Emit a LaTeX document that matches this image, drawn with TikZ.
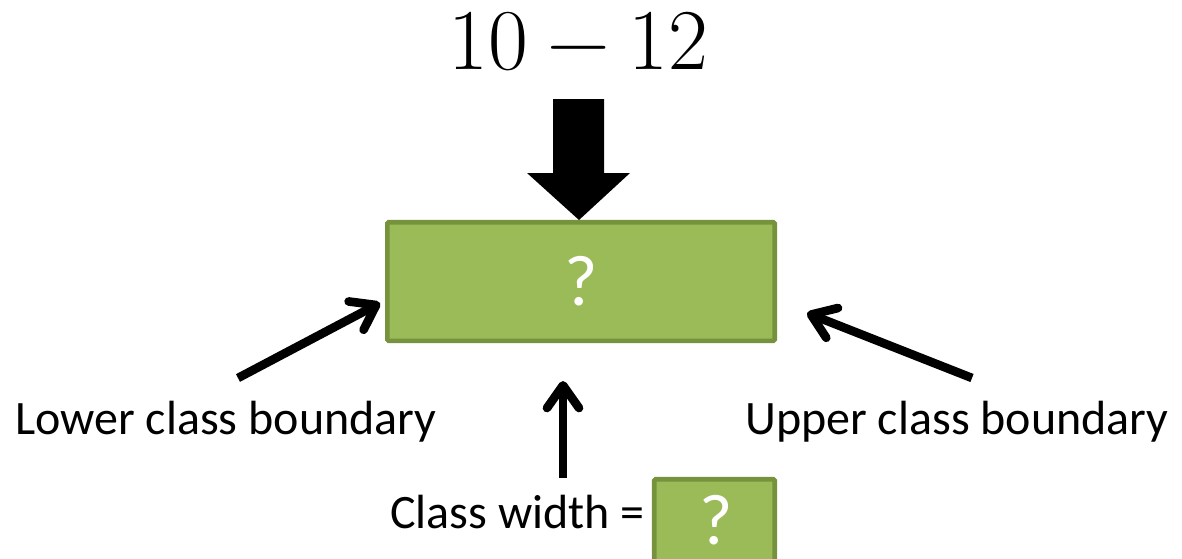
\documentclass[tikz,border=0pt]{standalone}
\usepackage{fontspec}
\setmainfont{Carlito}
\newfontfamily\rangefont{Latin Modern Roman}
\usetikzlibrary{arrows.meta}
\definecolor{boxfill}{HTML}{9BBB59}
\definecolor{boxline}{HTML}{76923C}
\begin{document}
\begin{tikzpicture}[x=0.75pt,y=-0.75pt,
  greenbox/.style={draw=boxline, fill=boxfill, line width=3.4pt, rounded corners=1pt,
    text=white, font=\fontsize{54}{60}\selectfont, inner sep=0pt},
  mark text/.style={text=white, font=\fontsize{54}{60}\selectfont, inner sep=0pt},
  caption/.style={font=\fontsize{36}{43}\selectfont, inner sep=0pt, anchor=base west},
  pointer/.style={line width=6.5pt,
    -{Straight Barb[length=17pt,width=24pt,round]}}]
\useasboundingbox (0,0) rectangle (1182,558);
\clip (0,0) rectangle (1182,558);

% class interval written above
\node[font=\rangefont\fontsize{65}{70}\selectfont, inner sep=0pt] (range) at (578.5,41.5)
  {10\hspace{0.22em}−\hspace{0.22em}12};

% thick block arrow pointing down onto the box
\coordinate (tip) at (579,220);
\fill (tip) -- (527,173) -- (553,173) -- (553,99) -- (604,99) -- (604,173) -- (630,173) -- cycle;

% main box
\node[greenbox, minimum width=290.6pt, minimum height=88.9pt] (box) at (581,281.5) {?};

% labels
\node[caption] (lower) at (15,434) {Lower class boundary};
\node[caption] (upper) at (745,434) {Upper class boundary};
\node[caption] (cw) at (390,528) {Class width =};

% answer box for the width, running off the lower edge
\filldraw[draw=boxline, fill=boxfill, line width=3.4pt, rounded corners=1pt]
  (654.25,479.25) rectangle (774.75,590);
\node[mark text] (wq) at (716,520) {?};

% pointers
\coordinate (ltail) at (238,378);
\coordinate (ltip) at (380,303);
\coordinate (rtail) at (972,378);
\coordinate (rtip) at (807,313);
\coordinate (utail) at (563,478);
\coordinate (utip) at (563,381);
\draw[pointer] (ltail) -- (ltip);
\draw[pointer] (rtail) -- (rtip);
\draw[pointer] (utail) -- (utip);
\end{tikzpicture}
\end{document}
